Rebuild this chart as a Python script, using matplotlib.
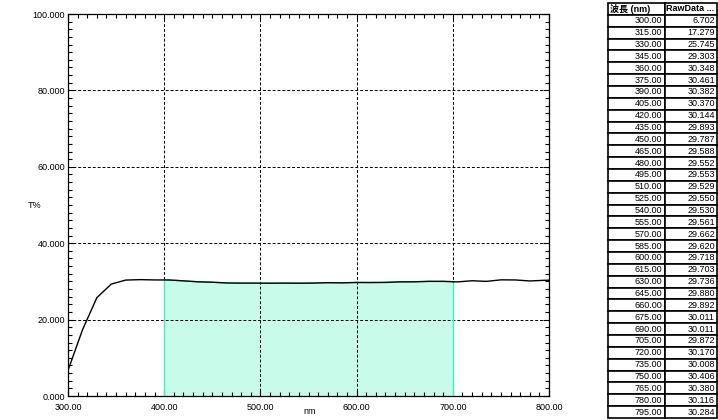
import numpy as np
import matplotlib.pyplot as plt
from matplotlib.ticker import MultipleLocator, FormatStrFormatter

plt.rcParams['font.family'] = ['Liberation Sans', 'Noto Sans CJK JP', 'DejaVu Sans']

# spectrum (15 nm steps) + end point
wavelength = [300, 315, 330, 345, 360, 375, 390, 405, 420, 435, 450, 465, 480,
              495, 510, 525, 540, 555, 570, 585, 600, 615, 630, 645, 660, 675,
              690, 705, 720, 735, 750, 765, 780, 795]
raw_data = [6.702, 17.279, 25.745, 29.303, 30.348, 30.461, 30.382, 30.370,
            30.144, 29.893, 29.787, 29.588, 29.552, 29.553, 29.529, 29.550,
            29.530, 29.561, 29.662, 29.620, 29.718, 29.703, 29.736, 29.880,
            29.892, 30.011, 30.011, 29.872, 30.170, 30.008, 30.406, 30.380,
            30.116, 30.284]
end_wl, end_val = 800, 30.3

# integration range
range_lo, range_hi = 400, 700

col_headers = ['波長 (nm)', 'RawData ...']

wl = np.array(wavelength + [end_wl], dtype=float)
val = np.array(raw_data + [end_val])

fig = plt.figure(figsize=(7.18, 4.2), dpi=100)
ax = fig.add_axes([68/718, 1 - 396/420, (549 - 68)/718, (396 - 14)/420])

# shaded region between 400 and 700 nm
x_fill = np.concatenate([[range_lo], wl[(wl > range_lo) & (wl < range_hi)], [range_hi]])
y_fill = np.interp(x_fill, wl, val)
ax.fill_between(x_fill, 0, y_fill, color='#c9fbea', zorder=1)
ax.plot(x_fill, y_fill, color='#40f0c6', lw=1.0, zorder=2)
ax.vlines([range_lo, range_hi], 0, np.interp([range_lo, range_hi], wl, val),
          color='#40f0c6', lw=1.0, zorder=2)

ax.plot(wl, val, color='black', lw=1.0, zorder=3)

ax.set_xlim(300, 800)
ax.set_ylim(0, 100)
ax.xaxis.set_major_locator(MultipleLocator(100))
ax.xaxis.set_minor_locator(MultipleLocator(10))
ax.yaxis.set_major_locator(MultipleLocator(20))
ax.yaxis.set_minor_locator(MultipleLocator(2))
ax.xaxis.set_major_formatter(FormatStrFormatter('%.2f'))
ax.yaxis.set_major_formatter(FormatStrFormatter('%.3f'))
ax.tick_params(which='both', direction='in', top=True, right=True,
               labelsize=6.5, width=0.8)
ax.tick_params(which='major', length=4)
ax.tick_params(axis='x', which='major', pad=5)
ax.tick_params(axis='y', which='major', pad=2)
ax.tick_params(which='minor', length=3)
ax.grid(True, which='major', color='black', ls=(0, (3, 2)), lw=0.7)
for s in ax.spines.values():
    s.set_linewidth(0.9)
fig.text(310/718, 1 - 412/420, 'nm', fontsize=6.5, ha='center', va='center')
fig.text(35/718, 1 - 205/420, 'T%', fontsize=6.5, ha='center', va='center')

# data table on the right
tax = fig.add_axes([608/718, 2/420, 109/718, 415/420])
tax.axis('off')
cells = [[f'{w:.2f}', f'{v:.3f}'] for w, v in zip(wavelength, raw_data)]
tbl = tax.table(cellText=cells, colLabels=col_headers, bbox=[0, 0, 1, 1],
                colWidths=[0.52, 0.48], cellLoc='right')
tbl.auto_set_font_size(False)
for (r, c), cell in tbl.get_celld().items():
    cell.set_edgecolor('black')
    cell.set_linewidth(1.2)
    cell.set_fontsize(6.5)
    cell.PAD = 0.04
    if r == 0:
        cell.get_text().set_fontweight('bold')
        cell.get_text().set_ha('left')
        cell._loc = 'left'
        cell.PAD = 0.03

fig.savefig('out.png', dpi=100)
